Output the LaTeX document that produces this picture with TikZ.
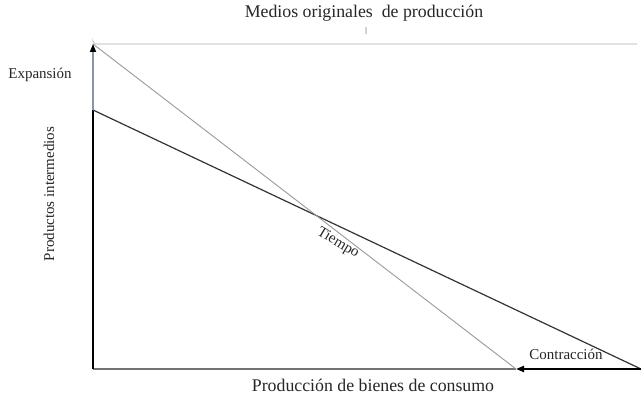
\documentclass[tikz,border=0pt]{standalone}
\usepackage{fontspec}
\setmainfont{Liberation Serif}
\usetikzlibrary{arrows.meta}
\definecolor{azulgris}{RGB}{135,150,172}

\begin{document}
\begin{tikzpicture}[x=1pt, y=-1pt, >={Triangle[length=8pt,width=6pt,color=black]},
	every node/.style={text=black!85, font=\fontsize{15}{18}\selectfont},
	grande/.style={font=\fontsize{17.8}{21}\selectfont},
	recta/.style={black!80, line width=1.2pt},
	guia/.style={black!40, line width=0.9pt},
	eje/.style={black!55, line width=1.2pt},
	llave/.style={black!18, line width=1.2pt, rounded corners=3pt}]
	\useasboundingbox (0,0) rectangle (641,396);

	% puntos de la grafica
	\coordinate (O) at (93,369);
	\coordinate (cima) at (93,44);
	\coordinate (ymed) at (93,110);
	\coordinate (xfin) at (641,369);
	\coordinate (xcorto) at (516,369);

	% llave superior
	\coordinate (llaveizq) at (93,42);
	\coordinate (llaveder) at (637,44);
	\coordinate (pico) at (366,27);
	\draw[llave] (llaveizq) |- (llaveder);
	\draw[llave] (pico) -- (pico |- 0,34);

	\node[grande] (titulo) at (364,13) {Medios originales \ de producción};
	\node (exp) at (40,75) {Expansión};
	\node[rotate=90] (prod) at (49,194) {Productos intermedios};
	\node[rotate=-31] (tiempo) at (338,243) {Tiempo};
	\node (contr) at (566,354) {Contracción};
	\node[grande] (bienes) at (373,385) {Producción de bienes de consumo};

	% ejes
	\draw[eje] (O) -- (xcorto);
	\draw[black, line width=1.2pt] (O) -- (ymed);

	% lineas
	\draw[recta] (ymed) -- (xfin);
	\draw[guia] (cima) -- (xcorto);

	\path[->]	(ymed) edge [azulgris, line width=1.6pt] (cima)
				(xfin) edge [black, line width=2pt] (xcorto);
\end{tikzpicture}
\end{document}
